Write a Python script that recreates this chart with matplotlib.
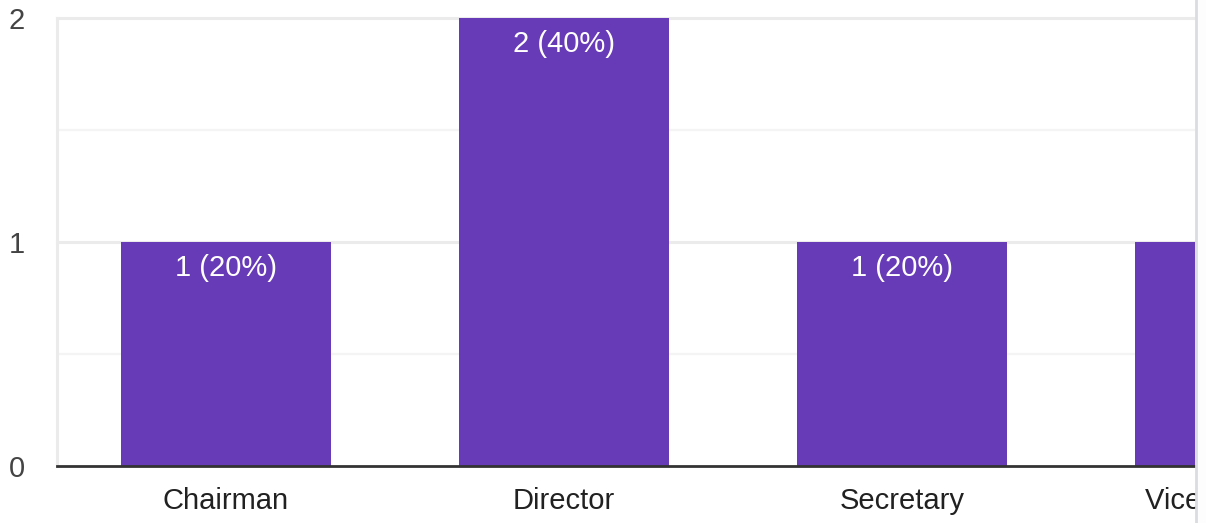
import matplotlib
matplotlib.use("Agg")
import matplotlib.pyplot as plt
from matplotlib.patches import Rectangle
from matplotlib.lines import Line2D

categories = ["Chairman", "Director", "Secretary", "Vice Chairman"]
counts = [1, 2, 1, 1]
percents = [20, 40, 20, 20]
yticks = [0, 1, 2]

plt.rcParams['font.family'] = ['Liberation Sans', 'DejaVu Sans']

W, H = 1206, 523
fig = plt.figure(figsize=(W / 100, H / 100), dpi=100)
ax = fig.add_axes([57 / W, (H - 466) / H, (1195 - 57) / W, (466 - 18) / H])

bar_color = "#673ab7"
xs = list(range(len(categories)))
ax.bar(xs, counts, width=0.62, color=bar_color, zorder=3)

ax.set_yticks(yticks)
ax.set_yticklabels([str(t) for t in yticks])
ax.set_xticks([])

xmax = -0.5 + (1195 - 57) / 338
ax.set_xlim(-0.5, xmax)
ax.set_ylim(0, 2)

# category labels (the last one runs past the visible edge of the chart)
for x, name in zip(xs, categories):
    ax.annotate(name, xy=(x, 0), xytext=(0, -15), textcoords="offset points",
                ha="center", va="top", color="#212121", fontsize=21,
                annotation_clip=False)

for x, c, p in zip(xs, counts, percents):
    if x + 0.31 > xmax:
        continue  # label would not fit in the visible area
    ax.annotate(f"{c} ({p}%)", xy=(x, c), xytext=(0, -9), textcoords="offset points",
                ha="center", va="top", color="white", fontsize=21, zorder=4)

# grid lines
for y in [1, 2]:
    ax.axhline(y, color="#ebebeb", lw=2.2, zorder=1, clip_on=False)
for y in [0.5, 1.5]:
    ax.axhline(y, color="#f4f4f4", lw=1.6, zorder=1)
ax.axvline(-0.5, color="#ebebeb", lw=2.2, zorder=1, clip_on=False)
ax.axhline(0, color="#333333", lw=2.0, zorder=5, clip_on=False)

for s in ax.spines.values():
    s.set_visible(False)

ax.tick_params(axis="y", length=0, pad=23, labelsize=21, labelcolor="#444444")

# cover the clipped region at right and draw the divider line
fig.patches.append(Rectangle((1196 / W, 0), 1 - 1196 / W, 1, transform=fig.transFigure,
                             facecolor="#fdfdfd", edgecolor="none", zorder=10))
fig.lines.append(Line2D([1196 / W, 1196 / W], [0, 1], transform=fig.transFigure,
                        color="#dadce0", lw=2, zorder=11))

fig.savefig("out.png", dpi=100, facecolor="white")
